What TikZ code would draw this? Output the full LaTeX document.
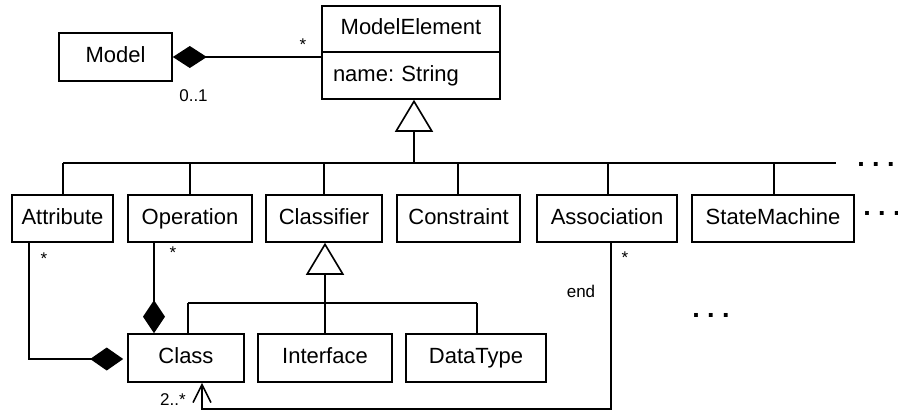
\documentclass[tikz,border=0pt]{standalone}
\usepackage{fontspec}
\setmainfont{Liberation Sans}
\usetikzlibrary{arrows.meta}
\frenchspacing
\newcommand\boxfont{\fontsize{22pt}{26pt}\selectfont}
\newcommand\multfont{\fontsize{17pt}{20pt}\selectfont}
\newcommand\dotfont{\fontsize{27pt}{30pt}\selectfont\bfseries}
\tikzset{
  umlbox/.style={draw, line width=1.6pt, minimum height=47pt, inner sep=0pt,
    text height=16pt, text depth=4.6pt, font=\boxfont},
  mult/.style={font=\multfont, inner sep=0pt},
  rel/.style={line width=1.6pt},
  more/.style={font=\dotfont, inner sep=0pt},
  gen/.style={rel, -{Triangle[open, length=32pt, width=38pt]}},
  comp/.style={rel, -{Diamond[length=33pt, width=23pt]}},
  nav/.style={rel, -{Straight Barb[length=18pt, width=18pt]}},
}
\begin{document}
\begin{tikzpicture}[x=1pt, y=-1pt]
\useasboundingbox (0,0) rectangle (898,410);

% top level
\node[umlbox, minimum width=113pt, minimum height=48pt] (model) at (115.5,57) {Model};
\node[umlbox, minimum width=178pt, minimum height=46pt] (mehead) at (411,29) {ModelElement};
\node[umlbox, minimum height=47pt, text width=156pt, inner xsep=11pt, align=left] (meattr) at (411,75.5) {name: String};

% subclasses of ModelElement
\node[umlbox, minimum width=101pt] (attr) at (62.5,218.5) {Attribute};
\node[umlbox, minimum width=124pt] (oper) at (190,218.5) {Operation};
\node[umlbox, minimum width=116pt] (classifier) at (324,218.5) {Classifier};
\node[umlbox, minimum width=123pt] (constraint) at (458.5,218.5) {Constraint};
\node[umlbox, minimum width=140pt] (assoc) at (607,218.5) {Association};
\node[umlbox, minimum width=162pt] (statem) at (773,218.5) {StateMachine};

% subclasses of Classifier
\node[umlbox, minimum width=116pt, minimum height=48pt] (class) at (186,358) {Class};
\node[umlbox, minimum width=134pt, minimum height=48pt] (interface) at (325,358) {Interface};
\node[umlbox, minimum width=140pt, minimum height=48pt] (datatype) at (476,358) {DataType};

% Model owns ModelElements
\draw[comp, -{Diamond[length=34pt, width=22pt]}] (model.east -| mehead.west) -- (model.east);
\node[mult] (mstar) at (303,45) {*};
\node[mult] (mzero) at (193.5,96) {0..1};

% generalization tree below ModelElement
\coordinate (busL) at (63,163);
\coordinate (busR) at (836,163);
\coordinate (hub) at (414,163);
\draw[rel] (busL) -- (busR);
\draw[gen] (hub) -- (hub |- meattr.south);
\foreach \n/\x in {attr/63, oper/190, classifier/324, constraint/458, assoc/608, statem/774} {
  \coordinate (dropx) at (\x,163);
  \draw[rel] (dropx |- \n.north) -- (dropx);
}

% generalization tree below Classifier
\coordinate (gbL) at (188,303);
\coordinate (gbR) at (477,303);
\draw[rel] (gbL) -- (gbR);
\draw[rel] (gbL) -- (gbL |- class.north);
\draw[rel] (gbR) -- (gbR |- datatype.north);
\draw[gen] (interface.north) -- (interface.north |- classifier.south);

% compositions into Class
\coordinate (acorner) at (29,359);
\draw[comp, shorten >=4pt] (attr.south -| acorner) -- (acorner) -- (acorner -| class.west);
\node[mult] (astar) at (44,259) {*};
\coordinate (ox) at (154,0);
\draw[comp, -{Diamond[length=33pt, width=22pt]}] (oper.south -| ox) -- (class.north -| ox);
\node[mult] (ostar) at (173,253) {*};

% association ends
\coordinate (abr) at (611,409);
\coordinate (abl) at (202,409);
\draw[nav] (assoc.south -| abr) -- (abr) -- (abl) -- (abl |- class.south);
\node[mult] (sstar) at (625,258) {*};
\node[mult] (endlbl) at (581,291) {end};
\node[mult] (twostar) at (173,400) {2..*};

% continuation marks
\node[more] (moretop) at (876,164) {. . .};
\node[more] (moreright) at (882,213) {. . .};
\node[more] (moremid) at (711,315) {. . .};
\end{tikzpicture}
\end{document}
